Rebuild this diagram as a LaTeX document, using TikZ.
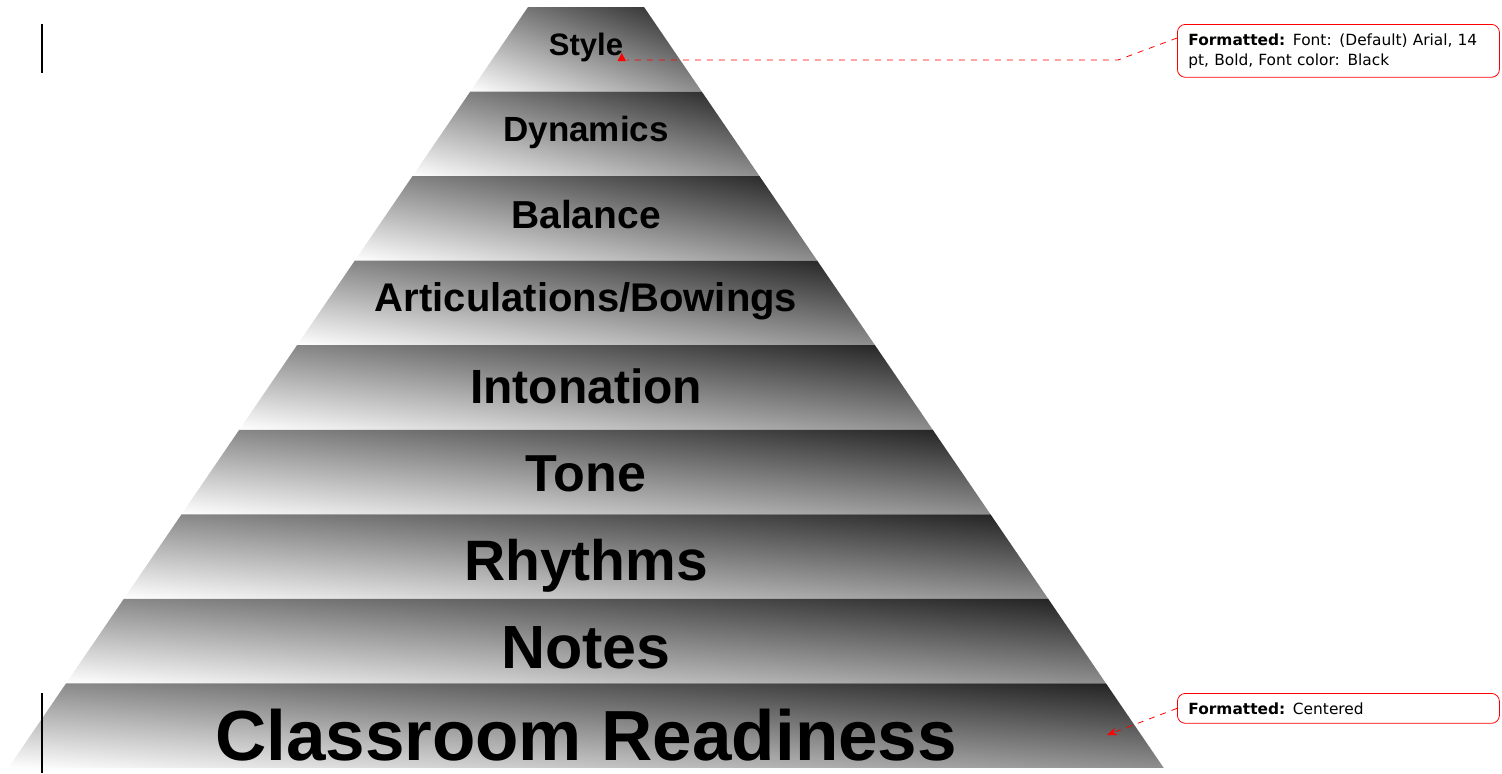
\documentclass[tikz,border=0pt]{standalone}
\usepackage{fontspec}
\setmainfont{Liberation Sans}
\newfontfamily\notefont{DejaVu Sans}
\usetikzlibrary{arrows.meta}
\tikzset{
  layer/.style={shading=axis,top color=black!88,middle color=black!35,bottom color=white},
  word/.style={anchor=base,font=\bfseries\fontsize{#1}{#1}\selectfont},
  note/.style={draw=red,rounded corners=4pt,fill=white,anchor=north west,align=left,
    text width=150pt,inner xsep=5.5pt,inner ysep=4.5pt,
    font=\notefont\fontsize{7.7}{10}\selectfont},
  link/.style={red,dashed,thin}
}
\begin{document}
\begin{tikzpicture}[x=0.5pt,y=-0.5pt]
\useasboundingbox (0,0) rectangle (1502,773);
% pyramid, top layer first
\foreach \name/\txt/\size/\base [count=\i from 0] in {
  style/Style/15.5/55,
  dynamics/Dynamics/17.5/141,
  balance/Balance/19.5/228,
  bowings/{Articulations/Bowings}/20/311,
  intonation/Intonation/24/403,
  tone/Tone/26/491,
  rhythms/Rhythms/28.5/580,
  notes/Notes/30.5/668,
  readiness/Classroom Readiness/35.5/760}{
  \pgfmathsetmacro{\ytop}{7+84.55*\i}
  \pgfmathsetmacro{\ybot}{7+84.55*(\i+1)}
  \pgfmathsetmacro{\wtop}{58+0.683*(\ytop-7)}
  \pgfmathsetmacro{\wbot}{58+0.683*(\ybot-7)}
  \pgfmathsetmacro{\ymid}{-0.25*(\ytop+\ybot)}
  \pgfmathsetmacro{\sx}{\wbot/20}
  \begin{scope}
    \clip (586-\wtop,\ytop) -- (586+\wtop,\ytop) -- (586+\wbot,\ybot) -- (586-\wbot,\ybot) -- cycle;
    % diagonal gradient: light bottom left, dark top right
    \shade[layer,transform canvas={shift={(293pt,\ymid pt)},xscale=\sx,yscale=2.114,rotate=-45}]
      (-40pt,-14.14pt) rectangle (40pt,14.14pt);
  \end{scope}
  \node[word=\size] (\name) at (586,\base) {\txt};
}
% change bars
\draw[line width=1pt] (42,24) -- (42,73);
\draw[line width=1pt] (42,693) -- (42,773);
% comments
\node[note] (fmtfont) at (1177,24) {\textbf{Formatted:} Font: (Default) Arial, 14\\pt, Bold, Font color: Black};
\node[note] (fmtcenter) at (1177,693) {\textbf{Formatted:} Centered};
\coordinate (bend1) at (1118,60);
\coordinate (mark1) at (627,60);
\coordinate (mark2) at (1107,735);
\path[link,draw] ([yshift=-7pt]fmtfont.north west) -- (bend1) -- (mark1);
\fill[red] (617.5,61) -- (626,61) -- (621.75,53) -- cycle;
\path[link,draw,-{Stealth[length=5pt,width=4pt]}] (fmtcenter.west) -- (mark2);
\end{tikzpicture}
\end{document}
